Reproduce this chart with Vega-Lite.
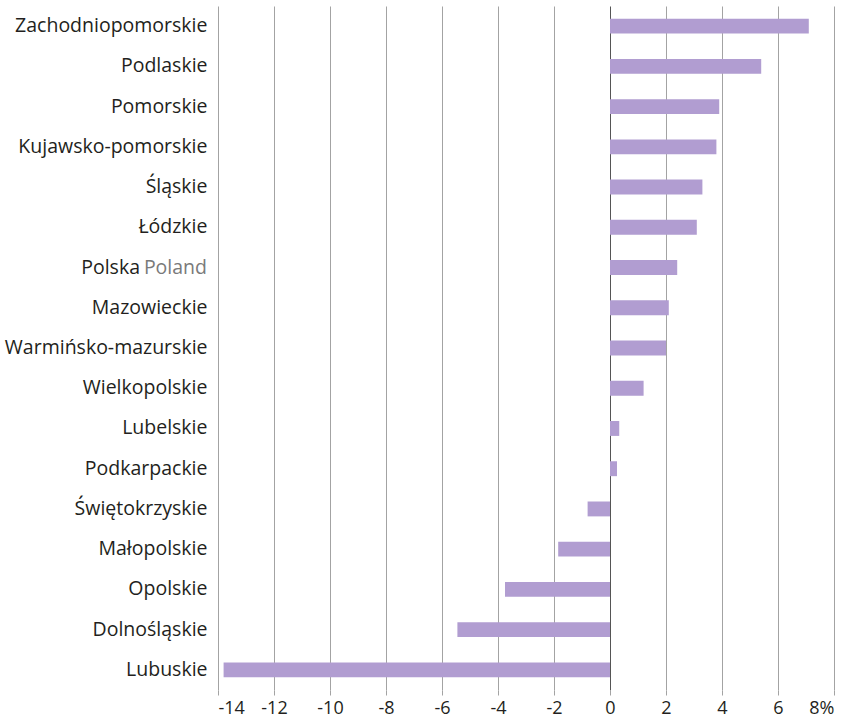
{
  "$schema": "https://vega.github.io/schema/vega-lite/v6.json",
  "width": 616,
  "height": 684,
  "autosize": {"type": "none"},
  "padding": {"left": 218, "top": 6, "right": 24, "bottom": 31},
  "config": {"view": {"stroke": null}, "font": "Open Sans"},
  "data": {
    "values": [
      {"region": "Zachodniopomorskie", "value": 7.1},
      {"region": "Podlaskie", "value": 5.4},
      {"region": "Pomorskie", "value": 3.9},
      {"region": "Kujawsko-pomorskie", "value": 3.8},
      {"region": "Śląskie", "value": 3.3},
      {"region": "Łódzkie", "value": 3.1},
      {"region": "Polska Poland", "value": 2.4},
      {"region": "Mazowieckie", "value": 2.1},
      {"region": "Warmińsko-mazurskie", "value": 2.0},
      {"region": "Wielkopolskie", "value": 1.2},
      {"region": "Lubelskie", "value": 0.33},
      {"region": "Podkarpackie", "value": 0.25},
      {"region": "Świętokrzyskie", "value": -0.8},
      {"region": "Małopolskie", "value": -1.85},
      {"region": "Opolskie", "value": -3.75},
      {"region": "Dolnośląskie", "value": -5.45},
      {"region": "Lubuskie", "value": -13.8}
    ]
  },
  "encoding": {
    "y": {
      "field": "region",
      "type": "nominal",
      "sort": null,
      "scale": {"paddingInner": 0.63, "paddingOuter": 0.315},
      "axis": {
        "title": null,
        "ticks": false,
        "domain": false,
        "labelFontSize": 19.5,
        "labelLimit": 400,
        "labelColor": "#231f20",
        "labelPadding": 11,
        "labelExpr": "datum.value == 'Polska Poland' ? '' : datum.value"
      }
    }
  },
  "layer": [
    {
      "mark": {"type": "bar", "color": "#b19dd1"},
      "encoding": {
        "x": {
          "field": "value",
          "type": "quantitative",
          "scale": {"domain": [-14, 8], "nice": false, "zero": false},
          "axis": {
            "title": null,
            "values": [-14, -12, -10, -8, -6, -4, -2, 0, 2, 4, 6, 8],
            "domain": false,
            "grid": true,
            "gridColor": {"condition": {"test": "datum.value === 0", "value": "#555555"}, "value": "#a3a3a3"},
            "gridOpacity": 1,
            "tickColor": "#a3a3a3",
            "tickSize": 5,
            "labelFontSize": 18,
            "labelColor": "#231f20",
            "labelPadding": 4,
            "labelExpr": "(datum.value < 0 ? '-' + abs(datum.value) : '' + datum.value) + (datum.value == 8 ? '%' : '')"
          }
        }
      }
    },
    {
      "transform": [{"filter": "datum.region == 'Polska Poland'"}],
      "mark": {"type": "text", "align": "right", "baseline": "middle", "dx": -78, "fontSize": 19.5, "color": "#231f20"},
      "encoding": {"x": {"datum": -14, "type": "quantitative"}, "text": {"value": "Polska"}}
    },
    {
      "transform": [{"filter": "datum.region == 'Polska Poland'"}],
      "mark": {"type": "text", "align": "right", "baseline": "middle", "dx": -11, "fontSize": 19.5, "color": "#7a7a7a"},
      "encoding": {"x": {"datum": -14, "type": "quantitative"}, "text": {"value": "Poland"}}
    }
  ]
}
